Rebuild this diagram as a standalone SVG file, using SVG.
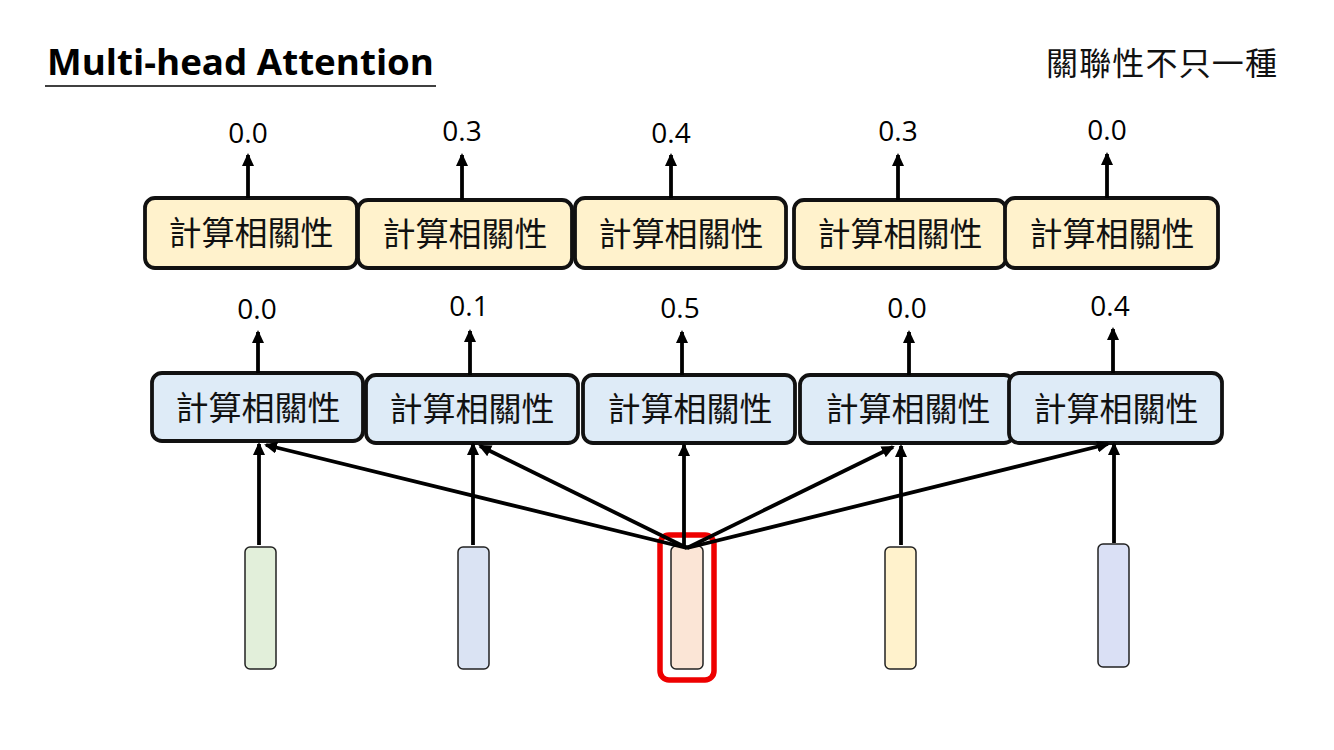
<svg xmlns="http://www.w3.org/2000/svg" width="1334" height="750" viewBox="0 0 1334 750">
<defs>
<marker id="ah" markerUnits="userSpaceOnUse" markerWidth="13" markerHeight="12" refX="11" refY="6" orient="auto">
<path d="M0,0 L13,6 L0,12 z" fill="#000"/>
</marker>
<style>
.box{stroke:#111;stroke-width:3.8}
.top{fill:#fff2cc}
.bot{fill:#deebf7}
.bt{font-family:"Noto Sans CJK TC","Noto Sans CJK SC",sans-serif;font-size:33px;fill:#111;text-anchor:middle}
.num{font-family:"Open Sans","Liberation Sans",sans-serif;font-size:28px;fill:#000;text-anchor:middle}
.vec{stroke:#222;stroke-width:1.5}
.c{stroke:#000;stroke-width:3.8;fill:none;marker-end:url(#ah)}
</style>
</defs>
<rect width="1334" height="750" fill="#fff"/>
<g id="title">
<text x="47" y="75" font-family="Open Sans,Liberation Sans,sans-serif" font-weight="bold" font-size="35" textLength="387" lengthAdjust="spacingAndGlyphs" fill="#000">Multi-head Attention</text>
<line x1="45" y1="86" x2="436" y2="86" stroke="#000" stroke-width="1.5"/>
</g>
<g id="subtitle">
<text x="1046" y="75" font-family="Noto Sans CJK TC,Noto Sans CJK SC,sans-serif" font-size="32" textLength="231" fill="#111">關聯性不只一種</text>
</g>
<g id="head2">
<g id="h2b1"><rect class="box top" x="145" y="198" width="212" height="70" rx="10"/><text class="bt" x="251" y="245">計算相關性</text></g>
<g id="h2b2"><rect class="box top" x="358" y="200" width="214" height="68" rx="10"/><text class="bt" x="465" y="246">計算相關性</text></g>
<g id="h2b3"><rect class="box top" x="575" y="198" width="211" height="70" rx="10"/><text class="bt" x="681" y="246">計算相關性</text></g>
<g id="h2b4"><rect class="box top" x="794" y="200" width="212" height="68" rx="10"/><text class="bt" x="900" y="246">計算相關性</text></g>
<g id="h2b5"><rect class="box top" x="1005" y="198" width="213" height="70" rx="10"/><text class="bt" x="1112" y="246">計算相關性</text></g>
</g>
<g id="head1">
<g id="h1b1"><rect class="box bot" x="152" y="373" width="211" height="68" rx="10"/><text class="bt" x="258" y="420">計算相關性</text></g>
<g id="h1b2"><rect class="box bot" x="366" y="375" width="212" height="68" rx="10"/><text class="bt" x="472" y="421">計算相關性</text></g>
<g id="h1b3"><rect class="box bot" x="583" y="375" width="212" height="68" rx="10"/><text class="bt" x="690" y="421">計算相關性</text></g>
<g id="h1b4"><rect class="box bot" x="800" y="375" width="214" height="68" rx="10"/><text class="bt" x="908" y="421">計算相關性</text></g>
<g id="h1b5"><rect class="box bot" x="1009" y="373" width="213" height="70" rx="10"/><text class="bt" x="1116" y="421">計算相關性</text></g>
</g>
<g id="scores">
<text class="num" x="248" y="143">0.0</text>
<text class="num" x="462" y="141">0.3</text>
<text class="num" x="671" y="143">0.4</text>
<text class="num" x="898" y="141">0.3</text>
<text class="num" x="1107" y="140">0.0</text>
<text class="num" x="257" y="319">0.0</text>
<text class="num" x="469" y="316">0.1</text>
<text class="num" x="680" y="318">0.5</text>
<text class="num" x="907" y="318">0.0</text>
<text class="num" x="1110" y="316">0.4</text>
</g>
<g id="vectors">
<rect id="v1" class="vec" x="245" y="547" width="31" height="122" rx="5" fill="#e2efda"/>
<rect id="v2" class="vec" x="458" y="547" width="31" height="122" rx="5" fill="#dae3f3"/>
<rect id="v3" class="vec" x="671" y="546" width="32" height="123" rx="5" fill="#fbe5d6"/>
<rect id="v4" class="vec" x="885" y="547" width="31" height="122" rx="5" fill="#fff2cc"/>
<rect id="v5" class="vec" x="1098" y="544" width="31" height="123" rx="5" fill="#dae0f5"/>
<rect id="highlight" x="660" y="535" width="54" height="145" rx="9" fill="none" stroke="#ee0000" stroke-width="5.5"/>
</g>
<g id="connectors">
<line class="c" x1="248" y1="198" x2="248" y2="155"/>
<line class="c" x1="462" y1="200" x2="462" y2="155"/>
<line class="c" x1="671" y1="198" x2="671" y2="155"/>
<line class="c" x1="898" y1="200" x2="898" y2="155"/>
<line class="c" x1="1107" y1="198" x2="1107" y2="154"/>
<line class="c" x1="258" y1="373" x2="258" y2="332"/>
<line class="c" x1="470" y1="375" x2="470" y2="331"/>
<line class="c" x1="682" y1="375" x2="682" y2="332"/>
<line class="c" x1="909" y1="375" x2="909" y2="332"/>
<line class="c" x1="1113" y1="373" x2="1113" y2="329"/>
<line class="c" x1="259" y1="545" x2="259" y2="444"/>
<line class="c" x1="473" y1="545" x2="473" y2="444"/>
<line class="c" x1="684" y1="546" x2="684" y2="445"/>
<line class="c" x1="901" y1="545" x2="901" y2="446"/>
<line class="c" x1="1114" y1="543" x2="1114" y2="444"/>
<line class="c" x1="687" y1="548" x2="266" y2="445"/>
<line class="c" x1="687" y1="548" x2="480" y2="446"/>
<line class="c" x1="687" y1="548" x2="893" y2="447"/>
<line class="c" x1="687" y1="548" x2="1108" y2="444"/>
</g>
</svg>
